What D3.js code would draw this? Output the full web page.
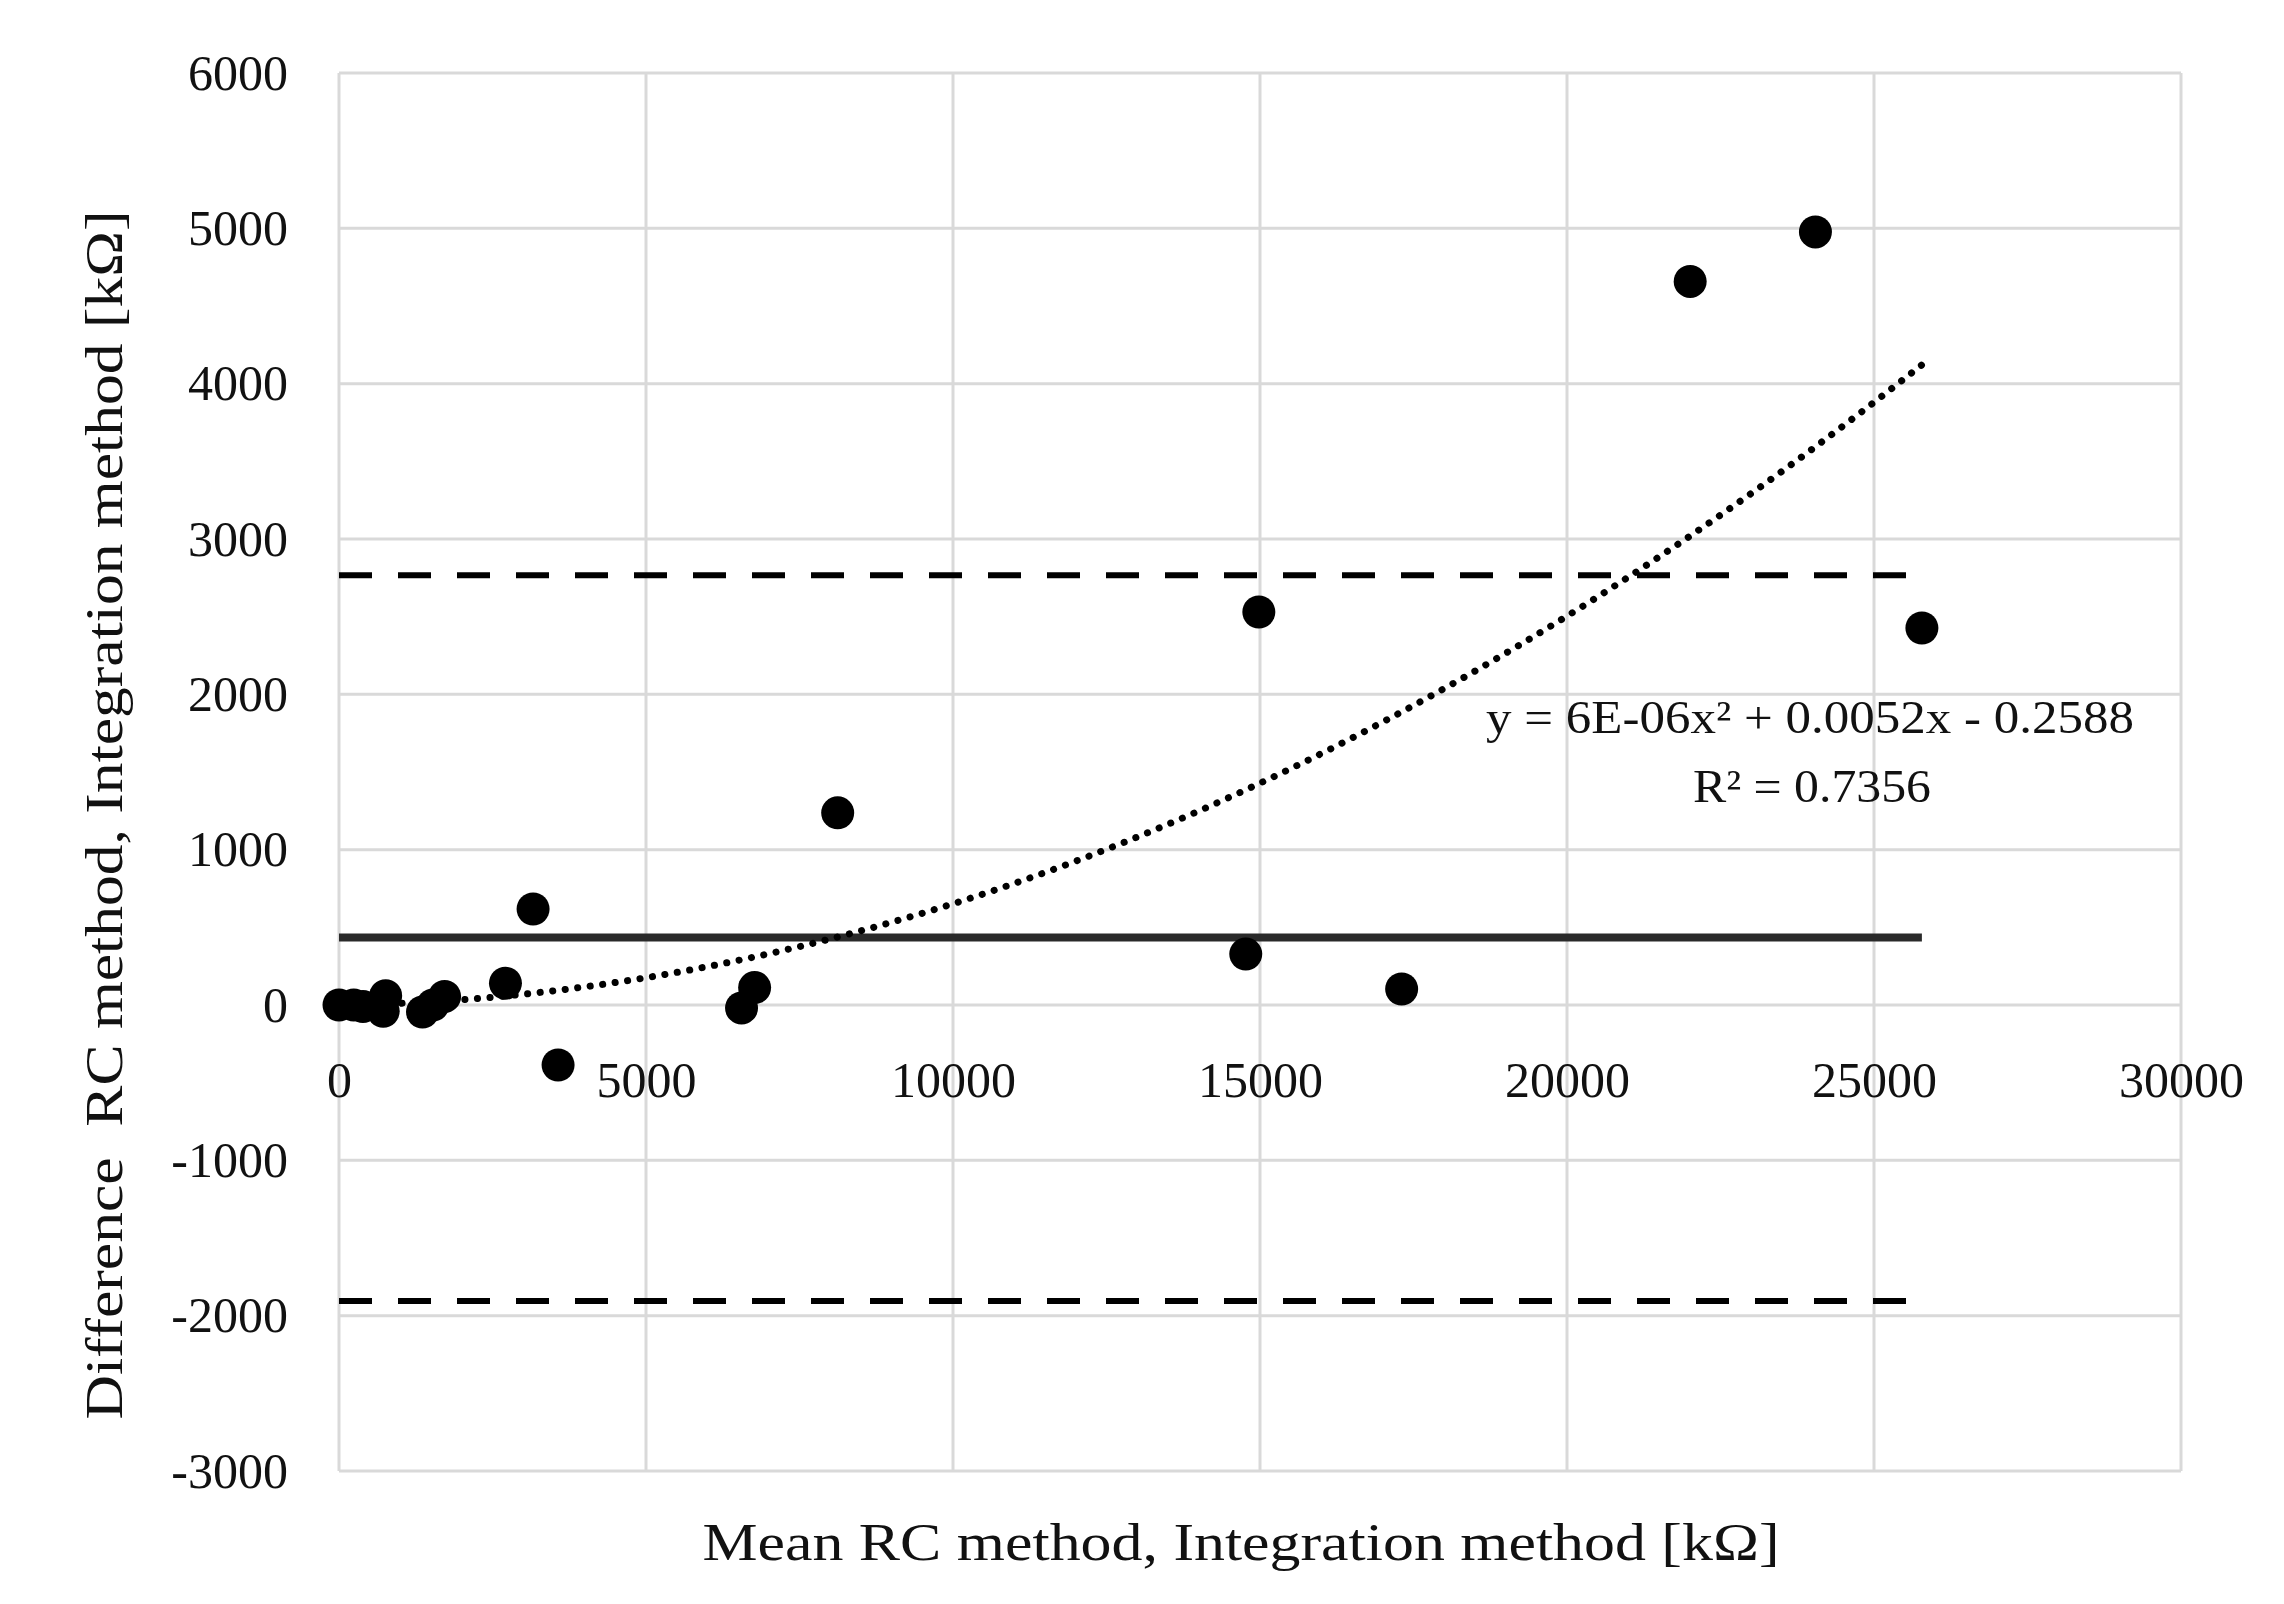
<!DOCTYPE html>
<html>
<head>
<meta charset="utf-8">
<script src="https://cdn.jsdelivr.net/npm/d3@7"></script>
<style>
  html, body { margin: 0; padding: 0; background: #fff; }
  svg { display: block; }
</style>
</head>
<body>
<svg id="chart" width="2284" height="1604"></svg>
<script>
// ---- data ----
const meanValues = [0, 240, 390, 720, 760, 1360, 1530, 1720, 2711, 3161, 3568, 6556, 6769, 8122, 14768, 14981, 17307, 22006, 24046, 25780];
const diffValues = [0, 0, -10, -40, 60, -45, 0, 55, 140, 618, -386, -19, 112, 1237, 328, 2530, 103, 4658, 4977, 2427];
const xTicks = [0, 5000, 10000, 15000, 20000, 25000, 30000];
const yTicks = [-3000, -2000, -1000, 0, 1000, 2000, 3000, 4000, 5000, 6000];
const meanDiff = [435];
const limitsOfAgreement = [2767, -1905];
const trendCoefficients = [6e-6, 0.0052, -0.2588]; // a, b, c of y = a x^2 + b x + c
const trendLabel = ["y = 6E-06x² + 0.0052x - 0.2588", "R² = 0.7356"];
const xTitle = "Mean RC method, Integration method [kΩ]";
const yTitle = "Difference  RC method, Integration method [kΩ]";

// ---- layout ----
const svg = d3.select("#chart");
const L = 339, R = 2181, T = 73, B = 1471;
const x = d3.scaleLinear().domain([0, 30000]).range([L, R]);
const y = d3.scaleLinear().domain([-3000, 6000]).range([B, T]);
const font = "'Liberation Serif', 'Times New Roman', serif";
const fmt = d => String(d);

// gridlines
const grid = svg.append("g");
grid.selectAll("line.v").data(xTicks).join("line")
  .attr("x1", d => x(d)).attr("x2", d => x(d))
  .attr("y1", T).attr("y2", B)
  .attr("stroke", "#d9d9d9").attr("stroke-width", 3);
grid.selectAll("line.h").data(yTicks).join("line")
  .attr("x1", L).attr("x2", R)
  .attr("y1", d => y(d)).attr("y2", d => y(d))
  .attr("stroke", "#d9d9d9").attr("stroke-width", 3);

// y axis labels
const yAxis = d3.axisLeft(y).tickValues(yTicks).tickSize(0).tickPadding(51).tickFormat(fmt);
const gy = svg.append("g").attr("transform", `translate(${L},0)`).call(yAxis);
gy.select(".domain").remove();
gy.selectAll("text").attr("font-family", font).attr("font-size", 50).attr("fill", "#111");

// x axis labels at y = 0
const xAxis = d3.axisBottom(x).tickValues(xTicks).tickSize(0).tickPadding(0).tickFormat(fmt);
const gx = svg.append("g").attr("transform", `translate(0,${y(0)})`).call(xAxis);
gx.select(".domain").remove();
gx.selectAll("text").attr("font-family", font).attr("font-size", 50).attr("fill", "#111")
  .attr("dy", 0).attr("y", 92);

const xMin = d3.min(meanValues), xMax = d3.max(meanValues);

// mean line
svg.selectAll("line.mean").data(meanDiff).join("line")
  .attr("x1", x(xMin)).attr("x2", x(xMax))
  .attr("y1", d => y(d)).attr("y2", d => y(d))
  .attr("stroke", "#2a2a2a").attr("stroke-width", 8);

// limits of agreement
svg.selectAll("line.loa").data(limitsOfAgreement).join("line")
  .attr("x1", x(xMin)).attr("x2", x(xMax))
  .attr("y1", d => y(d)).attr("y2", d => y(d))
  .attr("stroke", "#000").attr("stroke-width", 6)
  .attr("stroke-dasharray", "33 26");

// trend line (from the chart's own equation)
const [a, b, c] = trendCoefficients;
const trendX = d3.range(xMin, xMax, 100).concat([xMax]);
const line = d3.line().x(d => x(d)).y(d => y(a * d * d + b * d + c)).curve(d3.curveLinear);
svg.append("path").datum(trendX)
  .attr("d", line)
  .attr("fill", "none").attr("stroke", "#000").attr("stroke-width", 7)
  .attr("stroke-linecap", "round").attr("stroke-dasharray", "0.1 12.5");

// points
svg.selectAll("circle.pt").data(meanValues.map((m, i) => [m, diffValues[i]])).join("circle")
  .attr("cx", d => x(d[0])).attr("cy", d => y(d[1])).attr("r", 16.5).attr("fill", "#000");

// trend label
svg.append("text").attr("x", 1810).attr("y", 733).attr("text-anchor", "middle")
  .attr("font-family", font).attr("font-size", 47).attr("fill", "#111")
  .attr("textLength", 648).attr("lengthAdjust", "spacingAndGlyphs")
  .text(trendLabel[0]);
svg.append("text").attr("x", 1812).attr("y", 802).attr("text-anchor", "middle")
  .attr("font-family", font).attr("font-size", 47).attr("fill", "#111")
  .attr("textLength", 238).attr("lengthAdjust", "spacingAndGlyphs")
  .text(trendLabel[1]);

// axis titles
svg.append("text").attr("x", 1241).attr("y", 1560).attr("text-anchor", "middle")
  .attr("font-family", font).attr("font-size", 53).attr("fill", "#111")
  .attr("textLength", 1077).attr("lengthAdjust", "spacingAndGlyphs")
  .text(xTitle);
svg.append("text").attr("transform", "translate(122,815) rotate(-90)").attr("text-anchor", "middle")
  .attr("font-family", font).attr("font-size", 53).attr("fill", "#111")
  .style("white-space", "pre")
  .attr("textLength", 1209).attr("lengthAdjust", "spacingAndGlyphs")
  .text(yTitle);
</script>
</body>
</html>
